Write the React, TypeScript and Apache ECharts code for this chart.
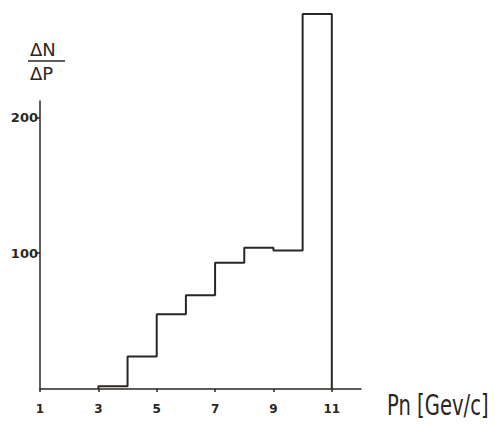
import React, { useEffect, useRef } from "react";
import * as echarts from "echarts";

const binEdges = [3, 4, 5, 6, 7, 8, 9, 10, 11];
const counts = [2, 24, 55, 69, 93, 104, 102, 276];
const xTickValues = [1, 3, 5, 7, 9, 11];
const yTickValues = [100, 200];
const xRange = [1, 12];
const yRange = [0, 212];
const xAxisTitle = "Pn [Gev/c]";

const INK = "#2b2622";

export default function App() {
  const ref = useRef<HTMLDivElement>(null);
  useEffect(() => {
    if (!ref.current) return;
    const chart = echarts.init(ref.current, undefined, { renderer: "svg" });
    const pts: number[][] = [[binEdges[0], 0]];
    counts.forEach((c, i) => {
      pts.push([binEdges[i], c]);
      pts.push([binEdges[i + 1], c]);
    });
    pts.push([binEdges[binEdges.length - 1], 0]);

    chart.setOption({
      animation: false,
      backgroundColor: "#ffffff",
      grid: { left: 40, right: 134, top: 101, bottom: 37, outerBoundsMode: "none", containLabel: false },
      xAxis: {
        type: "value",
        min: xRange[0],
        max: xRange[1],
        splitLine: { show: false },
        axisLine: { lineStyle: { color: INK, width: 1.5 } },
        axisTick: { length: 3, customValues: xTickValues, lineStyle: { color: INK, width: 1.5 } },
        axisLabel: {
          customValues: xTickValues,
          margin: 14,
          color: INK,
          fontSize: 12,
          fontWeight: "bold",
          fontFamily: "DejaVu Sans, sans-serif",
        },
      },
      yAxis: {
        type: "value",
        min: yRange[0],
        max: yRange[1],
        splitLine: { show: false },
        axisLine: { show: true, lineStyle: { color: INK, width: 1.5 } },
        axisTick: { show: true, length: 3, customValues: yTickValues, lineStyle: { color: INK, width: 1.5 } },
        axisLabel: {
          customValues: yTickValues,
          margin: 2,
          color: INK,
          fontSize: 13,
          fontWeight: "bold",
          fontFamily: "DejaVu Sans, sans-serif",
        },
      },
      graphic: [
        {
          type: "text",
          left: 30,
          top: 40,
          style: { text: "ΔN", fontSize: 18, fill: INK, fontFamily: "DejaVu Sans, sans-serif" },
        },
        {
          type: "line",
          shape: { x1: 28, y1: 61, x2: 65, y2: 61 },
          style: { stroke: INK, lineWidth: 1.5 },
        },
        {
          type: "text",
          left: 30,
          top: 64,
          style: { text: "ΔP", fontSize: 18, fill: INK, fontFamily: "DejaVu Sans, sans-serif" },
        },
        {
          type: "text",
          x: 387,
          y: 392,
          scaleX: 0.7,
          style: {
            text: xAxisTitle,
            fontSize: 28,
            fill: INK,
            fontFamily: "DejaVu Sans, sans-serif",
            verticalAlign: "top",
            align: "left",
          },
        },
      ],
      series: [
        {
          type: "line",
          data: pts,
          clip: false,
          symbol: "none",
          lineStyle: { color: INK, width: 2 },
        },
      ],
    });
    return () => chart.dispose();
  }, []);
  return (
    <div
      ref={ref}
      style={{ position: "fixed", left: 0, top: 0, width: 495, height: 426 }}
    />
  );
}
